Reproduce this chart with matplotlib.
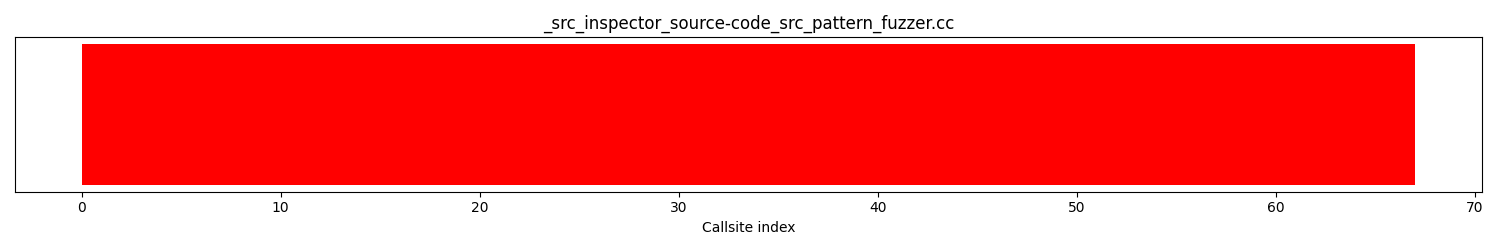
import matplotlib
matplotlib.use("Agg")
import matplotlib.pyplot as plt
import numpy as np

title = "_src_inspector_source-code_src_pattern_fuzzer.cc"
# hit status per callsite (0 = not reached -> red)
callsite_hits = [0] * 67
colors = ["green" if h else "red" for h in callsite_hits]

fig, ax = plt.subplots(figsize=(15, 2.5), dpi=100)
x = np.arange(len(callsite_hits))
ax.bar(x, [1] * len(callsite_hits), width=1, align="edge", color=colors)
ax.set_ylim(-0.05, 1.05)
ax.set_title(title)
ax.set_xlabel("Callsite index")
ax.set_yticks([])
plt.tight_layout()
plt.savefig("out.png")
